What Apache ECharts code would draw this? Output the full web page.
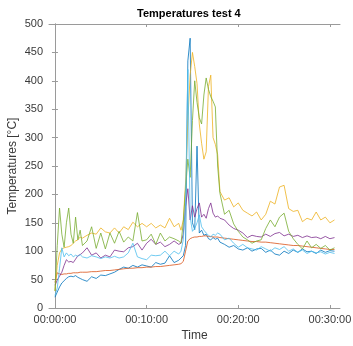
<!DOCTYPE html>
<html>
<head>
<meta charset="utf-8">
<script src="https://cdn.jsdelivr.net/npm/echarts@6/dist/echarts.min.js"></script>
<style>
  html, body { margin: 0; padding: 0; background: #fff; }
  #chart { width: 353px; height: 346px; }
</style>
</head>
<body>
<div id="chart"></div>
<script>
// time in minutes from start of test
var times = [
  0, 0.25, 0.5, 0.75, 1, 1.25, 1.5, 1.75, 2, 2.25, 2.5, 2.75, 3,
  3.5, 4, 4.5, 5, 5.5, 6, 6.5, 7, 7.5, 8, 8.5, 9, 9.5, 10, 10.5, 11, 11.5, 12, 12.5, 13, 13.5,
  13.75, 14, 14.25, 14.5, 14.75, 15, 15.25, 15.5, 15.75, 16, 16.25, 16.5, 16.75, 17, 17.25, 17.5, 17.75, 18,
  18.5, 19, 19.5, 20, 20.5, 21, 21.5, 22, 22.5, 23, 23.5, 24, 24.5, 25, 25.5, 26, 26.5, 27, 27.5, 28, 28.5, 29, 29.5, 30, 30.5
];

var blue = [
  19, 28, 37, 44, 48, 52, 55, 56, 55, 57, 54, 52, 50,
  47, 55, 52, 58, 57, 60, 63, 68, 72, 70, 75, 72, 76, 74, 72, 80, 77, 79, 92, 80, 84,
  88, 92, 110, 435, 475, 150, 138, 285, 132, 137, 128, 130, 122, 120, 124, 121, 123, 116,
  112, 107, 110, 104, 102, 106, 100, 104, 105, 98, 102, 95, 93, 100, 96, 102, 98, 104, 99, 100, 96, 102, 98, 101, 100
];
var orange = [
  45, 62, 60, 59, 60, 60, 61, 61, 62, 62, 62, 63, 63,
  63, 64, 64, 65, 66, 66, 67, 68, 69, 70, 70, 71, 71, 72, 72, 73, 73, 74, 75, 76, 77,
  78, 82, 100, 118, 122, 124, 125, 125, 126, 126, 127, 127, 126, 126, 125, 125, 125, 124,
  123, 122, 121, 120, 119, 118, 117, 117, 116, 116, 115, 114, 113, 112, 111, 110, 110, 109, 108, 107, 106, 105, 104, 103, 103
];
var yellow = [
  30, 75, 97, 104, 106, 107, 108, 110, 114, 118, 120, 125, 123,
  128, 132, 130, 141, 134, 132, 141, 132, 143, 138, 151, 143, 149, 143, 149, 141, 146, 141, 158, 143, 149,
  137, 155, 220, 330, 410, 450, 425, 395, 324, 290, 262, 275, 390, 410, 300, 288, 270, 205,
  190, 194, 178, 185, 172, 167, 162, 169, 155, 165, 188, 183, 213, 216, 175, 170, 172, 152, 158, 155, 169, 155, 160, 150, 155
];
var purple = [
  40, 49, 56, 63, 75, 85, 81, 82, 80, 86, 92, 94, 97,
  106, 93, 97, 88, 93, 90, 102, 100, 99, 106, 108, 114, 102, 114, 121, 112, 116, 108, 112, 118, 112,
  114, 130, 180, 210, 155, 180, 160, 175, 185, 160, 165, 158, 175, 185, 167, 160, 162, 158,
  155, 146, 140, 137, 132, 124, 128, 126, 125, 130, 126, 131, 133, 127, 130, 126, 128, 124, 127, 124, 125, 122, 126, 122, 124
];
var green = [
  30, 110, 176, 130, 107, 150, 176, 130, 114, 160, 120, 137, 110,
  118, 143, 105, 132, 104, 132, 114, 135, 116, 125, 118, 168, 118, 120, 130, 112, 132, 118, 125, 122, 118,
  114, 150, 210, 262, 230, 330, 400, 362, 335, 324, 375, 405, 385, 372, 364, 354, 250, 202,
  165, 172, 148, 135, 125, 120, 114, 118, 120, 140, 155, 143, 160, 167, 135, 122, 112, 104, 118, 106, 112, 105, 110, 102, 106
];
var lightBlue = [
  22, 35, 70, 106, 90, 97, 92, 95, 90, 93, 91, 94, 90,
  88, 92, 90, 87, 90, 88, 91, 88, 90, 97, 114, 90, 87, 85, 93, 92, 93, 100, 92, 100, 95,
  100, 120, 180, 420, 160, 135, 140, 150, 164, 143, 137, 132, 128, 125, 130, 128, 132, 130,
  120, 123, 114, 107, 112, 106, 104, 102, 108, 104, 100, 106, 103, 108, 100, 104, 98, 102, 96, 100, 97, 99, 95, 98, 96
];

var xTicks = [0, 10, 20, 30];
var seriesList = [
  { name: 'T1', values: blue, color: '#0072BD' },
  { name: 'T2', values: orange, color: '#D95319' },
  { name: 'T3', values: yellow, color: '#EDB120' },
  { name: 'T4', values: purple, color: '#7E2F8E' },
  { name: 'T5', values: green, color: '#77AC30' },
  { name: 'T6', values: lightBlue, color: '#4DBEEE' }
];

var chart = echarts.init(document.getElementById('chart'), null, { renderer: 'canvas' });

function fmtTime(v) {
  var m = Math.round(v);
  return '00:' + (m < 10 ? '0' : '') + m + ':00';
}

var font = 'Liberation Sans, Arial, Helvetica, sans-serif';
var axisColor = '#9a9a9a';
var textColor = '#3a3a3a';

var xBase = {
  type: 'value',
  min: -0.65,
  max: 31.1,
  axisLine: { show: true, onZero: false, lineStyle: { color: axisColor, width: 1 } },
  axisTick: { show: true, inside: true, length: 3, customValues: xTicks, lineStyle: { color: axisColor } },
  splitLine: { show: false }
};

var yBase = {
  type: 'value',
  min: 0,
  max: 500,
  interval: 50,
  axisLine: { show: true, lineStyle: { color: axisColor, width: 1 } },
  axisTick: { show: true, inside: true, length: 3, lineStyle: { color: axisColor } },
  splitLine: { show: false }
};

var option = {
  animation: false,
  backgroundColor: '#fff',
  title: {
    text: 'Temperatures test 4',
    left: 132,
    top: 3,
    textStyle: { fontFamily: font, fontSize: 11, fontWeight: 'bold', color: '#000' }
  },
  grid: { left: 49, right: 13, top: 24, bottom: 38, containLabel: false, outerBoundsMode: 'none' },
  xAxis: [
    Object.assign({}, xBase, {
      position: 'bottom',
      name: 'Time',
      nameLocation: 'middle',
      nameGap: 22,
      nameMoveOverlap: false,
      nameTextStyle: { fontFamily: font, fontSize: 12, color: textColor },
      axisLabel: {
        show: true, customValues: xTicks, margin: 6,
        fontFamily: font, fontSize: 11, color: textColor,
        formatter: fmtTime
      }
    }),
    Object.assign({}, xBase, { position: 'top', axisLabel: { show: false } })
  ],
  yAxis: [
    Object.assign({}, yBase, {
      position: 'left',
      name: 'Temperatures [°C]',
      nameLocation: 'middle',
      nameGap: 30,
      nameMoveOverlap: false,
      nameTextStyle: { fontFamily: font, fontSize: 12, color: textColor },
      axisLabel: { margin: 6, fontFamily: font, fontSize: 11, color: textColor }
    }),
    Object.assign({}, yBase, { position: 'right', axisLabel: { show: false } })
  ],
  series: seriesList.map(function (s) {
    return {
      name: s.name,
      type: 'line',
      xAxisIndex: 0,
      yAxisIndex: 0,
      showSymbol: false,
      symbol: 'none',
      data: times.map(function (t, i) { return [t, s.values[i]]; }),
      lineStyle: { color: s.color, width: 0.8 },
      itemStyle: { color: s.color }
    };
  })
};

chart.setOption(option);
</script>
</body>
</html>
